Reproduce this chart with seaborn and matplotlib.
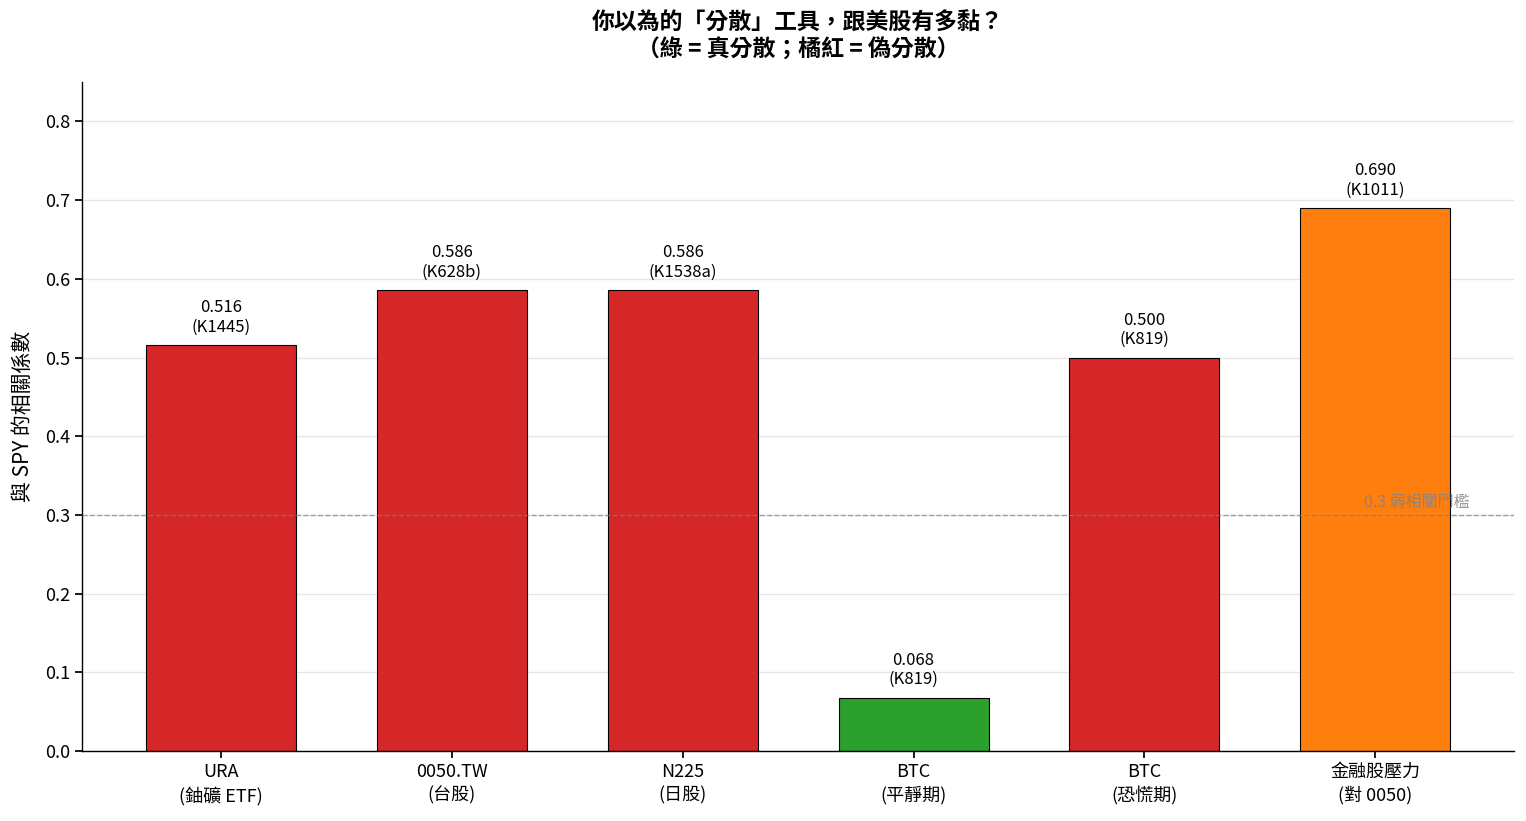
import matplotlib
matplotlib.use("Agg")
import matplotlib.pyplot as plt
import seaborn as sns
import pandas as pd

# 資料
labels = ["URA\n(鈾礦 ETF)", "0050.TW\n(台股)", "N225\n(日股)", "BTC\n(平靜期)", "BTC\n(恐慌期)", "金融股壓力\n(對 0050)"]
corr = [0.516, 0.586, 0.586, 0.068, 0.500, 0.690]
sources = ["K1445", "K628b", "K1538a", "K819", "K819", "K1011"]
colors = ["#d62728", "#d62728", "#d62728", "#2ca02c", "#d62728", "#ff7f0e"]
threshold = 0.3

sns.set_theme(style="white")
plt.rcParams["font.family"] = ["Noto Sans CJK TC", "DejaVu Sans"]
plt.rcParams["axes.unicode_minus"] = False
plt.rcParams["text.color"] = "black"
plt.rcParams["axes.labelcolor"] = "black"
plt.rcParams["xtick.color"] = "black"
plt.rcParams["ytick.color"] = "black"

df = pd.DataFrame({"label": labels, "corr": corr})

fig, ax = plt.subplots(figsize=(15.26, 8.21), dpi=100)
sns.barplot(data=df, x="label", y="corr", hue="label", palette=colors, legend=False,
            width=0.65, edgecolor="black", linewidth=0.8, saturation=1, ax=ax, zorder=2)

for i, (v, s) in enumerate(zip(corr, sources)):
    ax.text(i, v + 0.012, f"{v:.3f}\n({s})", ha="center", va="bottom", fontsize=12,
            linespacing=1.2, zorder=4)

ax.axhline(threshold, color="gray", linestyle="--", linewidth=1, alpha=0.7, zorder=3)
ax.text(len(corr) - 1.05, threshold + 0.005, "0.3 弱相關門檻", ha="left", va="bottom",
        fontsize=11.5, color="gray", alpha=0.8, zorder=2.5)

ax.set_ylim(0, 0.85)
ax.set_xlim(-0.6, 5.6)
ax.set_yticks([0, 0.1, 0.2, 0.3, 0.4, 0.5, 0.6, 0.7, 0.8])
ax.yaxis.grid(True, color="#e6e6e6", linewidth=1, zorder=0)
ax.set_axisbelow(True)
ax.set_xlabel("")
ax.set_ylabel("與 SPY 的相關係數", fontsize=15, labelpad=8)
ax.set_title("你以為的「分散」工具，跟美股有多黏？\n（綠 = 真分散；橘紅 = 偽分散）",
             fontsize=16.5, fontweight="bold", pad=18, linespacing=1.25)
ax.tick_params(axis="both", labelsize=13, length=5, color="black", left=True, bottom=True)
for t in ax.get_xticklabels():
    t.set_linespacing(1.35)
for sp in ["top", "right"]:
    ax.spines[sp].set_visible(False)
for sp in ["left", "bottom"]:
    ax.spines[sp].set_color("black")
    ax.spines[sp].set_linewidth(1)

plt.subplots_adjust(left=0.054, right=0.992, top=0.9, bottom=0.085)
plt.savefig("out.png", dpi=100)
